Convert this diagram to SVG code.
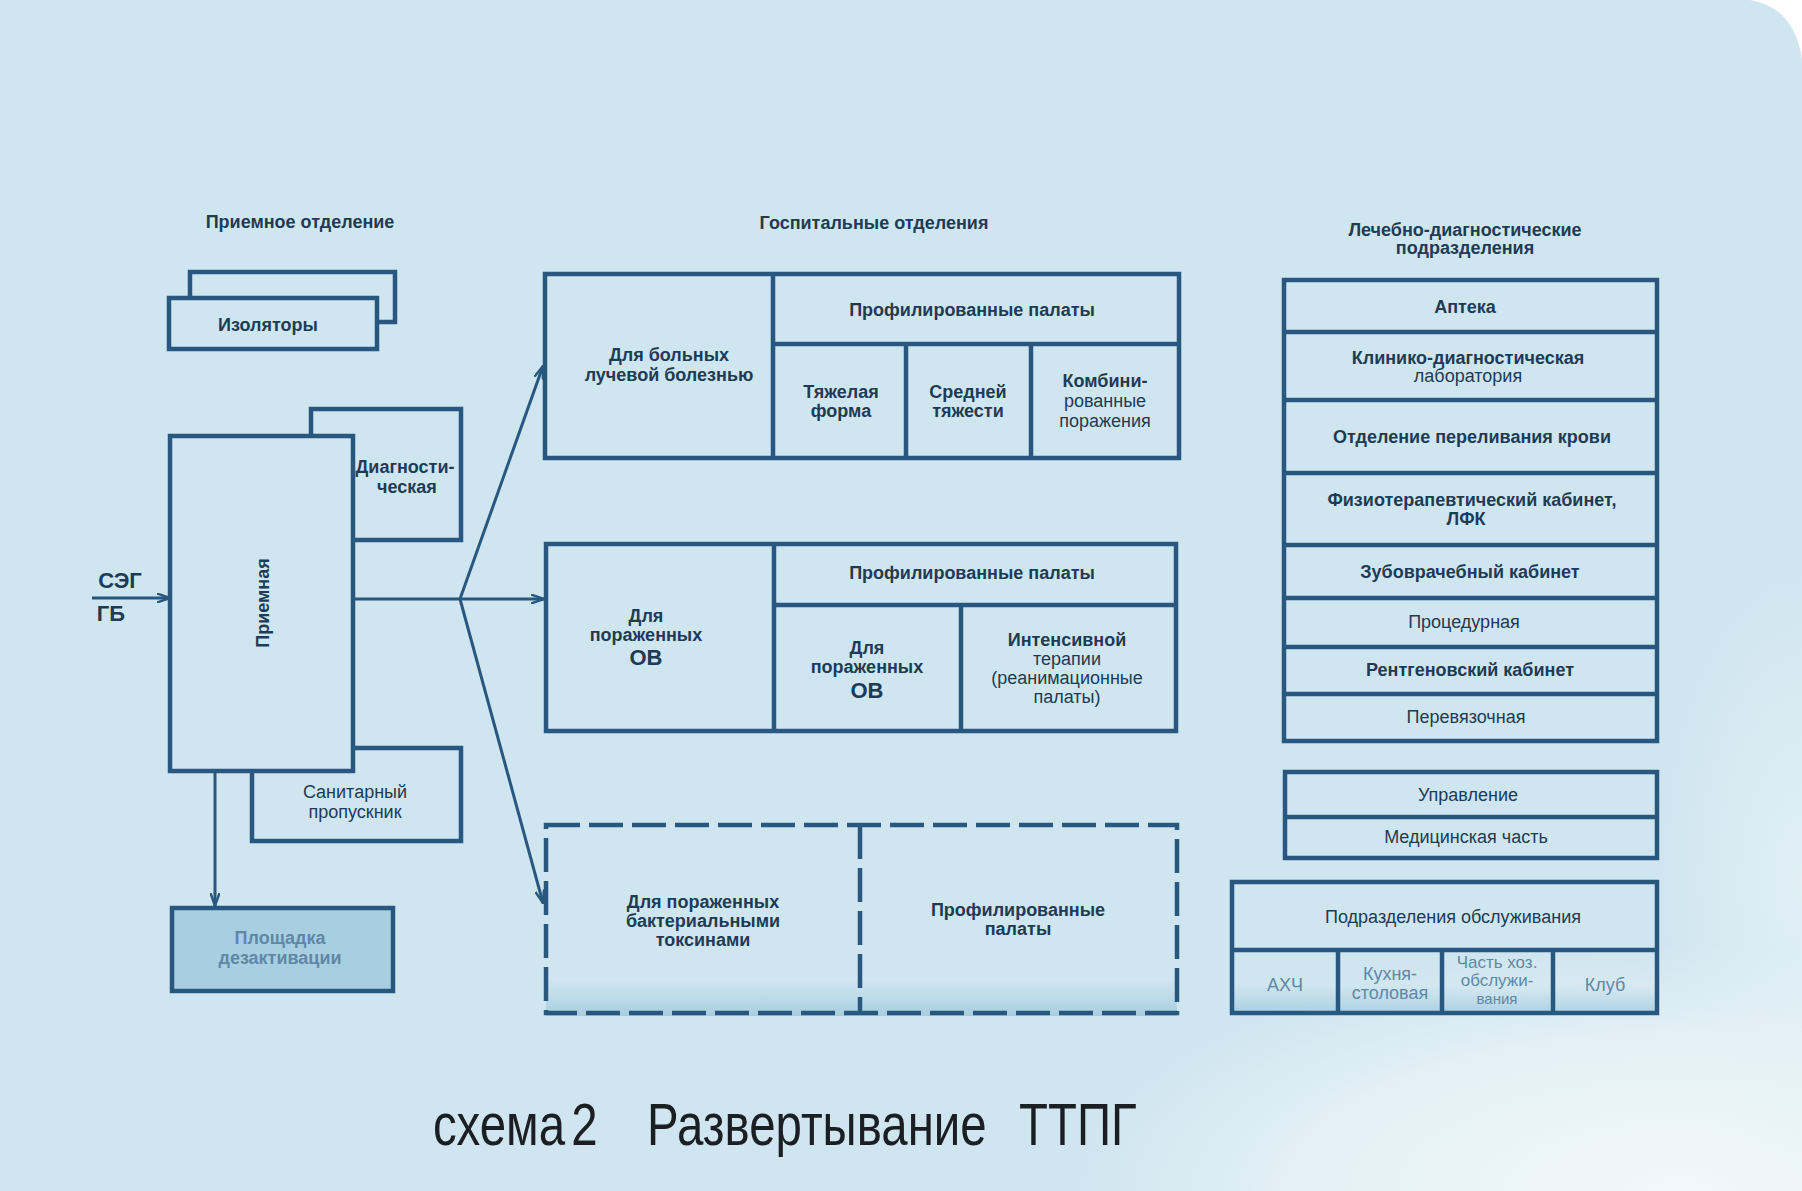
<svg xmlns="http://www.w3.org/2000/svg" width="1802" height="1191" viewBox="0 0 1802 1191">
<defs>
<style>
.bx{fill:none;stroke:#285880;stroke-width:4.5;stroke-linecap:square}
.bf{fill:#cfe5ef;stroke:#285880;stroke-width:4.5}
.ln{stroke:#285880;stroke-width:4.5;fill:none}
.dl{stroke:#285880;stroke-width:4.5;fill:none;stroke-dasharray:34 9}
.cn{stroke:#285880;stroke-width:3;fill:none}
.t{font-family:"Liberation Sans",Arial,sans-serif;font-weight:bold;font-size:18px;fill:#1e3b56;text-anchor:middle}
.n{font-weight:normal}
.tl{font-size:22px}
.fd{fill:#5f88a6}
.cap{font-family:"Liberation Sans",Arial,sans-serif;font-size:60px;fill:#1b1f24}
</style>
<marker id="arr" viewBox="0 0 14 10" refX="13" refY="5" markerWidth="14" markerHeight="10" markerUnits="userSpaceOnUse" orient="auto">
<path d="M0,0.5 L13,5 L0,9.5" fill="none" stroke="#285880" stroke-width="2.4"/>
</marker>
<radialGradient id="fade" cx="1680" cy="1191" r="620" gradientUnits="userSpaceOnUse" gradientTransform="translate(1680,1191) scale(1,0.4) translate(-1680,-1191)">
<stop offset="0" stop-color="#f2f8fb" stop-opacity="1"/>
<stop offset="0.6" stop-color="#eaf4f8" stop-opacity="0.8"/>
<stop offset="1" stop-color="#e6f2f7" stop-opacity="0"/>
</radialGradient>
<radialGradient id="edge" cx="0.5" cy="0.5" r="0.5">
<stop offset="0" stop-color="#e6f2f7" stop-opacity="0.8"/>
<stop offset="1" stop-color="#e6f2f7" stop-opacity="0"/>
</radialGradient>
<linearGradient id="shade" x1="0" y1="0" x2="0" y2="1">
<stop offset="0" stop-color="#a7cfe1" stop-opacity="0"/>
<stop offset="1" stop-color="#9fc9dd" stop-opacity="0.85"/>
</linearGradient>
</defs>

<rect x="0" y="0" width="1802" height="1191" fill="#cfe5ef"/>
<rect x="1000" y="940" width="802" height="251" fill="url(#fade)"/>
<ellipse cx="1802" cy="880" rx="150" ry="330" fill="url(#edge)"/>
<path d="M1750,0 L1802,0 L1802,60 Q1795,8 1750,0 Z" fill="#ffffff"/>
<rect x="546" y="980" width="631" height="36" fill="url(#shade)"/>
<rect x="1232" y="985" width="425" height="30" fill="url(#shade)"/>

<g id="priemnoe-title"><text class="t" x="300" y="228">Приемное отделение</text></g>

<g id="izolyatory">
<rect class="bf" x="190" y="272" width="205" height="50"/>
<rect class="bf" x="169" y="298" width="208" height="51"/>
<text class="t" x="268" y="331">Изоляторы</text>
</g>

<g id="diagnosticheskaya">
<rect class="bf" x="311" y="409" width="150" height="131"/>
<text class="t" x="405" y="473">Диагности-</text>
<text class="t" x="407" y="493">ческая</text>
</g>

<g id="sanitarny">
<rect class="bf" x="252" y="748" width="209" height="93"/>
<text class="t n" x="355" y="798">Санитарный</text>
<text class="t n" x="355" y="818">пропускник</text>
</g>

<g id="priemnaya">
<rect class="bf" x="170" y="436" width="183" height="335"/>
<text class="t" transform="translate(269,603) rotate(-90)">Приемная</text>
</g>

<g id="ploshchadka">
<rect x="172" y="908" width="221" height="83" fill="#a8cfe1" stroke="#285880" stroke-width="4.5"/>
<text class="t fd" x="280" y="944">Площадка</text>
<text class="t fd" x="280" y="964">дезактивации</text>
</g>

<g id="seg-gb">
<text class="t tl" x="120" y="588">СЭГ</text>
<text class="t tl" x="111" y="621">ГБ</text>
</g>

<g id="hospital-title"><text class="t" x="874" y="229">Госпитальные отделения</text></g>

<g id="box-radiation">
<rect class="bx" x="545" y="274" width="634" height="184"/>
<path class="ln" d="M773,274 V458 M773,344 H1179 M906,344 V458 M1031,344 V458"/>
<text class="t" x="972" y="316">Профилированные палаты</text>
<text class="t" x="669" y="361">Для больных</text>
<text class="t" x="669" y="381">лучевой болезнью</text>
<text class="t" x="841" y="398">Тяжелая</text>
<text class="t" x="841" y="417">форма</text>
<text class="t" x="968" y="398">Средней</text>
<text class="t" x="968" y="417">тяжести</text>
<text class="t" x="1105" y="387">Комбини-</text>
<text class="t n" x="1105" y="407">рованные</text>
<text class="t n" x="1105" y="427">поражения</text>
</g>

<g id="box-ov">
<rect class="bx" x="546" y="544" width="630" height="187"/>
<path class="ln" d="M774,544 V731 M774,605 H1176 M961,605 V731"/>
<text class="t" x="972" y="579">Профилированные палаты</text>
<text class="t" x="646" y="622">Для</text>
<text class="t" x="646" y="641">пораженных</text>
<text class="t tl" x="646" y="665">ОВ</text>
<text class="t" x="867" y="654">Для</text>
<text class="t" x="867" y="673">пораженных</text>
<text class="t tl" x="867" y="698">ОВ</text>
<text class="t" x="1067" y="646">Интенсивной</text>
<text class="t n" x="1067" y="665">терапии</text>
<text class="t n" x="1067" y="684">(реанимационные</text>
<text class="t n" x="1067" y="703">палаты)</text>
</g>

<g id="box-bacterial">
<rect class="dl" x="546" y="825" width="631" height="188"/>
<path class="dl" d="M860,825 V1013"/>
<text class="t" x="703" y="908">Для пораженных</text>
<text class="t" x="703" y="927">бактериальными</text>
<text class="t" x="703" y="946">токсинами</text>
<text class="t" x="1018" y="916">Профилированные</text>
<text class="t" x="1018" y="935">палаты</text>
</g>

<g id="ld-title">
<text class="t" x="1465" y="236">Лечебно-диагностические</text>
<text class="t" x="1465" y="254">подразделения</text>
</g>

<g id="ld-column">
<rect class="bx" x="1284" y="280" width="373" height="461"/>
<path class="ln" d="M1284,332 H1657 M1284,400 H1657 M1284,473 H1657 M1284,545 H1657 M1284,598 H1657 M1284,647 H1657 M1284,694 H1657"/>
<text class="t" x="1465" y="313">Аптека</text>
<text class="t" x="1468" y="364">Клинико-диагностическая</text>
<text class="t n" x="1468" y="382">лаборатория</text>
<text class="t" x="1472" y="443">Отделение переливания крови</text>
<text class="t" x="1472" y="506">Физиотерапевтический кабинет,</text>
<text class="t" x="1466" y="525">ЛФК</text>
<text class="t" x="1470" y="578">Зубоврачебный кабинет</text>
<text class="t n" x="1464" y="628">Процедурная</text>
<text class="t" x="1470" y="676">Рентгеновский кабинет</text>
<text class="t n" x="1466" y="723">Перевязочная</text>
</g>

<g id="management">
<rect class="bx" x="1285" y="772" width="372" height="86"/>
<path class="ln" d="M1285,817 H1657"/>
<text class="t n" x="1468" y="801">Управление</text>
<text class="t n" x="1466" y="843">Медицинская часть</text>
</g>

<g id="service">
<rect class="bx" x="1232" y="882" width="425" height="131"/>
<path class="ln" d="M1232,950 H1657 M1338,950 V1013 M1442,950 V1013 M1553,950 V1013"/>
<text class="t n" x="1453" y="923">Подразделения обслуживания</text>
<text class="t n fd" x="1285" y="991">АХЧ</text>
<text class="t n fd" x="1390" y="980">Кухня-</text>
<text class="t n fd" x="1390" y="999">столовая</text>
<text class="t n fd" x="1497" y="968" style="font-size:17px">Часть хоз.</text>
<text class="t n fd" x="1497" y="986" style="font-size:17px">обслужи-</text>
<text class="t n fd" x="1497" y="1004" style="font-size:15px">вания</text>
<text class="t n fd" x="1605" y="991">Клуб</text>
</g>

<g id="connectors">
<line class="cn" x1="92" y1="598" x2="170" y2="598" marker-end="url(#arr)"/>
<line class="cn" x1="353" y1="599" x2="544" y2="599" marker-end="url(#arr)"/>
<line class="cn" x1="460" y1="599" x2="543" y2="366" marker-end="url(#arr)"/>
<line class="cn" x1="460" y1="599" x2="543" y2="903" marker-end="url(#arr)"/>
<line class="cn" x1="215" y1="771" x2="215" y2="906" marker-end="url(#arr)"/>
</g>

<g id="caption">
<text class="cap" transform="matrix(0.79,0,0,1,0,0)" y="1145"><tspan x="548">схема</tspan><tspan x="723">2</tspan><tspan x="819">Развертывание</tspan><tspan x="1290">ТТПГ</tspan></text>
</g>
</svg>
